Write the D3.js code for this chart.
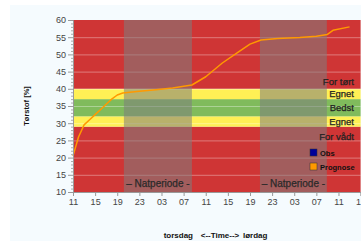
<!DOCTYPE html>
<html>
<head>
<meta charset="utf-8">
<script src="https://cdn.jsdelivr.net/npm/d3@7"></script>
<style>
  body { margin: 0; background: #fff; }
  svg { display: block; font-family: "Liberation Sans", Arial, sans-serif; }
</style>
</head>
<body>
<div id="chart"></div>
<script>
// hours after thursday 11:00
const hours  = [0, 1, 2, 3, 4, 5, 6, 7, 8, 9, 12, 15, 18, 21.5, 24, 27, 30, 32, 34, 37, 41, 44, 46, 47, 50];
const prognose = [20.5, 26, 29.5, 31, 32.5, 34, 35.5, 37, 38.2, 38.8, 39.3, 39.7, 40.2, 41.1, 43.5, 47.5, 50.8, 53, 54.2, 54.6, 54.9, 55.3, 55.8, 57, 58];

const xTickHours  = [0, 4, 8, 12, 16, 20, 24, 28, 32, 36, 40, 44, 48, 52];
const xTickLabels = ["11", "15", "19", "23", "03", "07", "11", "15", "19", "23", "03", "07", "11", "15"];
const yTicks = [10, 15, 20, 25, 30, 35, 40, 45, 50, 55, 60];

// zones
const bandLow  = [10, 29, 32, 37, 40];
const bandHigh = [29, 32, 37, 40, 60];
const bandColors = ["#cf3535", "#fff055", "#80bb5c", "#fff055", "#cf3535"];
const bandLabels = ["For vådt", "Egnet", "Bedst", "Egnet", "For tørt"];

const nightStart = [9.2, 33.8];
const nightEnd   = [21.5, 45.9];

const width = 361, height = 241;
const svg = d3.select("#chart").append("svg")
    .attr("width", width)
    .attr("height", height);

svg.append("rect")
    .attr("x", 10).attr("y", 5)
    .attr("width", width - 10).attr("height", height - 5)
    .attr("fill", "#f5fbfe");

const x = d3.scaleLinear().domain([0, 52]).range([73, 360.6]);
const y = d3.scaleLinear().domain([10, 60]).range([192, 20]);

// zone bands
svg.selectAll(".band")
    .data(bandLow)
    .enter().append("rect")
    .attr("x", x(0))
    .attr("y", (d, i) => y(bandHigh[i]))
    .attr("width", x(52) - x(0))
    .attr("height", (d, i) => y(d) - y(bandHigh[i]))
    .attr("fill", (d, i) => bandColors[i]);

// grid lines
svg.selectAll(".grid")
    .data(yTicks.slice(1, -1))
    .enter().append("line")
    .attr("x1", x(0)).attr("x2", x(52))
    .attr("y1", d => y(d) + 0.5).attr("y2", d => y(d) + 0.5)
    .attr("stroke", "rgba(255,255,255,0.35)")
    .attr("stroke-width", 1);

// night periods
svg.selectAll(".night")
    .data(nightStart)
    .enter().append("rect")
    .attr("x", d => x(d))
    .attr("y", y(60))
    .attr("width", (d, i) => x(nightEnd[i]) - x(d))
    .attr("height", y(10) - y(60))
    .attr("fill", "rgba(125,125,125,0.55)");

svg.selectAll(".nightLabel")
    .data(nightStart)
    .enter().append("text")
    .attr("x", (d, i) => (x(d) + x(nightEnd[i])) / 2)
    .attr("y", 187)
    .attr("text-anchor", "middle")
    .attr("font-size", "10px")
    .attr("fill", "#2a2a2a")
    .attr("stroke", "#2a2a2a").attr("stroke-width", 0.25)
    .text("– Natperiode -");

// zone labels
svg.selectAll(".bandLabel")
    .data(bandLabels)
    .enter().append("text")
    .attr("x", 354)
    .attr("y", (d, i) => {
        if (i === 0) return y(29) + 13;
        if (i === 4) return y(40) - 4;
        return (y(bandLow[i]) + y(bandHigh[i])) / 2 + 3.5;
    })
    .attr("text-anchor", "end")
    .attr("font-size", "9.5px")
    .attr("fill", "#222")
    .attr("stroke", "#222").attr("stroke-width", 0.25)
    .text(d => d);

// prognose line
const line = d3.line()
    .x((d, i) => x(hours[i]))
    .y(d => y(d));

svg.append("path")
    .datum(prognose)
    .attr("d", line)
    .attr("fill", "none")
    .attr("stroke", "#ff9900")
    .attr("stroke-width", 1.5)
    .attr("stroke-linejoin", "round");

// axes
const yAxis = svg.append("g")
    .attr("transform", `translate(${x(0)},0)`)
    .call(d3.axisLeft(y).tickValues(yTicks).tickSize(5).tickPadding(2));
yAxis.selectAll("text").attr("font-size", "9px").attr("fill", "#444").attr("font-family", "Liberation Sans, Arial, sans-serif");
yAxis.selectAll("line, path").attr("stroke", "#999");

svg.append("g")
    .attr("transform", `translate(${x(0)},0)`)
    .selectAll("line")
    .data(d3.range(10, 61).filter(d => d % 5 !== 0))
    .enter().append("line")
    .attr("x1", -2).attr("x2", 0)
    .attr("y1", d => y(d) + 0.5).attr("y2", d => y(d) + 0.5)
    .attr("stroke", "#aaa");

const xAxis = svg.append("g")
    .attr("transform", `translate(0,${y(10)})`)
    .call(d3.axisBottom(x).tickValues(xTickHours).tickFormat((d, i) => xTickLabels[i]).tickSize(4).tickPadding(3));
xAxis.selectAll("text").attr("font-size", "9px").attr("fill", "#444").attr("font-family", "Liberation Sans, Arial, sans-serif");
xAxis.selectAll("line, path").attr("stroke", "#999");

// legend
const legendNames = ["Obs", "Prognose"];
const legendColors = ["#000099", "#ff9900"];
const legend = svg.selectAll(".legend")
    .data(legendNames)
    .enter().append("g")
    .attr("transform", (d, i) => `translate(310,${149 + i * 14})`);
legend.append("rect")
    .attr("width", 7).attr("height", 7)
    .attr("fill", (d, i) => legendColors[i])
    .attr("stroke", "#333").attr("stroke-width", 0.5);
legend.append("text")
    .attr("x", 10).attr("y", 6.5)
    .attr("font-size", "7.5px")
    .attr("font-weight", "bold")
    .attr("fill", "#111")
    .text(d => d);

// axis titles
svg.append("text")
    .attr("transform", "translate(29,106) rotate(-90)")
    .attr("text-anchor", "middle")
    .attr("font-size", "7.5px")
    .attr("font-weight", "bold")
    .attr("fill", "#111")
    .text("Tørstof [%]");

svg.append("text")
    .attr("x", 193).attr("y", 238)
    .attr("text-anchor", "end")
    .attr("font-size", "8px").attr("font-weight", "bold").attr("fill", "#111")
    .text("torsdag");
svg.append("text")
    .attr("x", 220).attr("y", 238)
    .attr("text-anchor", "middle")
    .attr("font-size", "8px").attr("font-weight", "bold").attr("fill", "#111")
    .text("<--Time-->");
svg.append("text")
    .attr("x", 243).attr("y", 238)
    .attr("font-size", "8px").attr("font-weight", "bold").attr("fill", "#111")
    .text("lørdag");
</script>
</body>
</html>
